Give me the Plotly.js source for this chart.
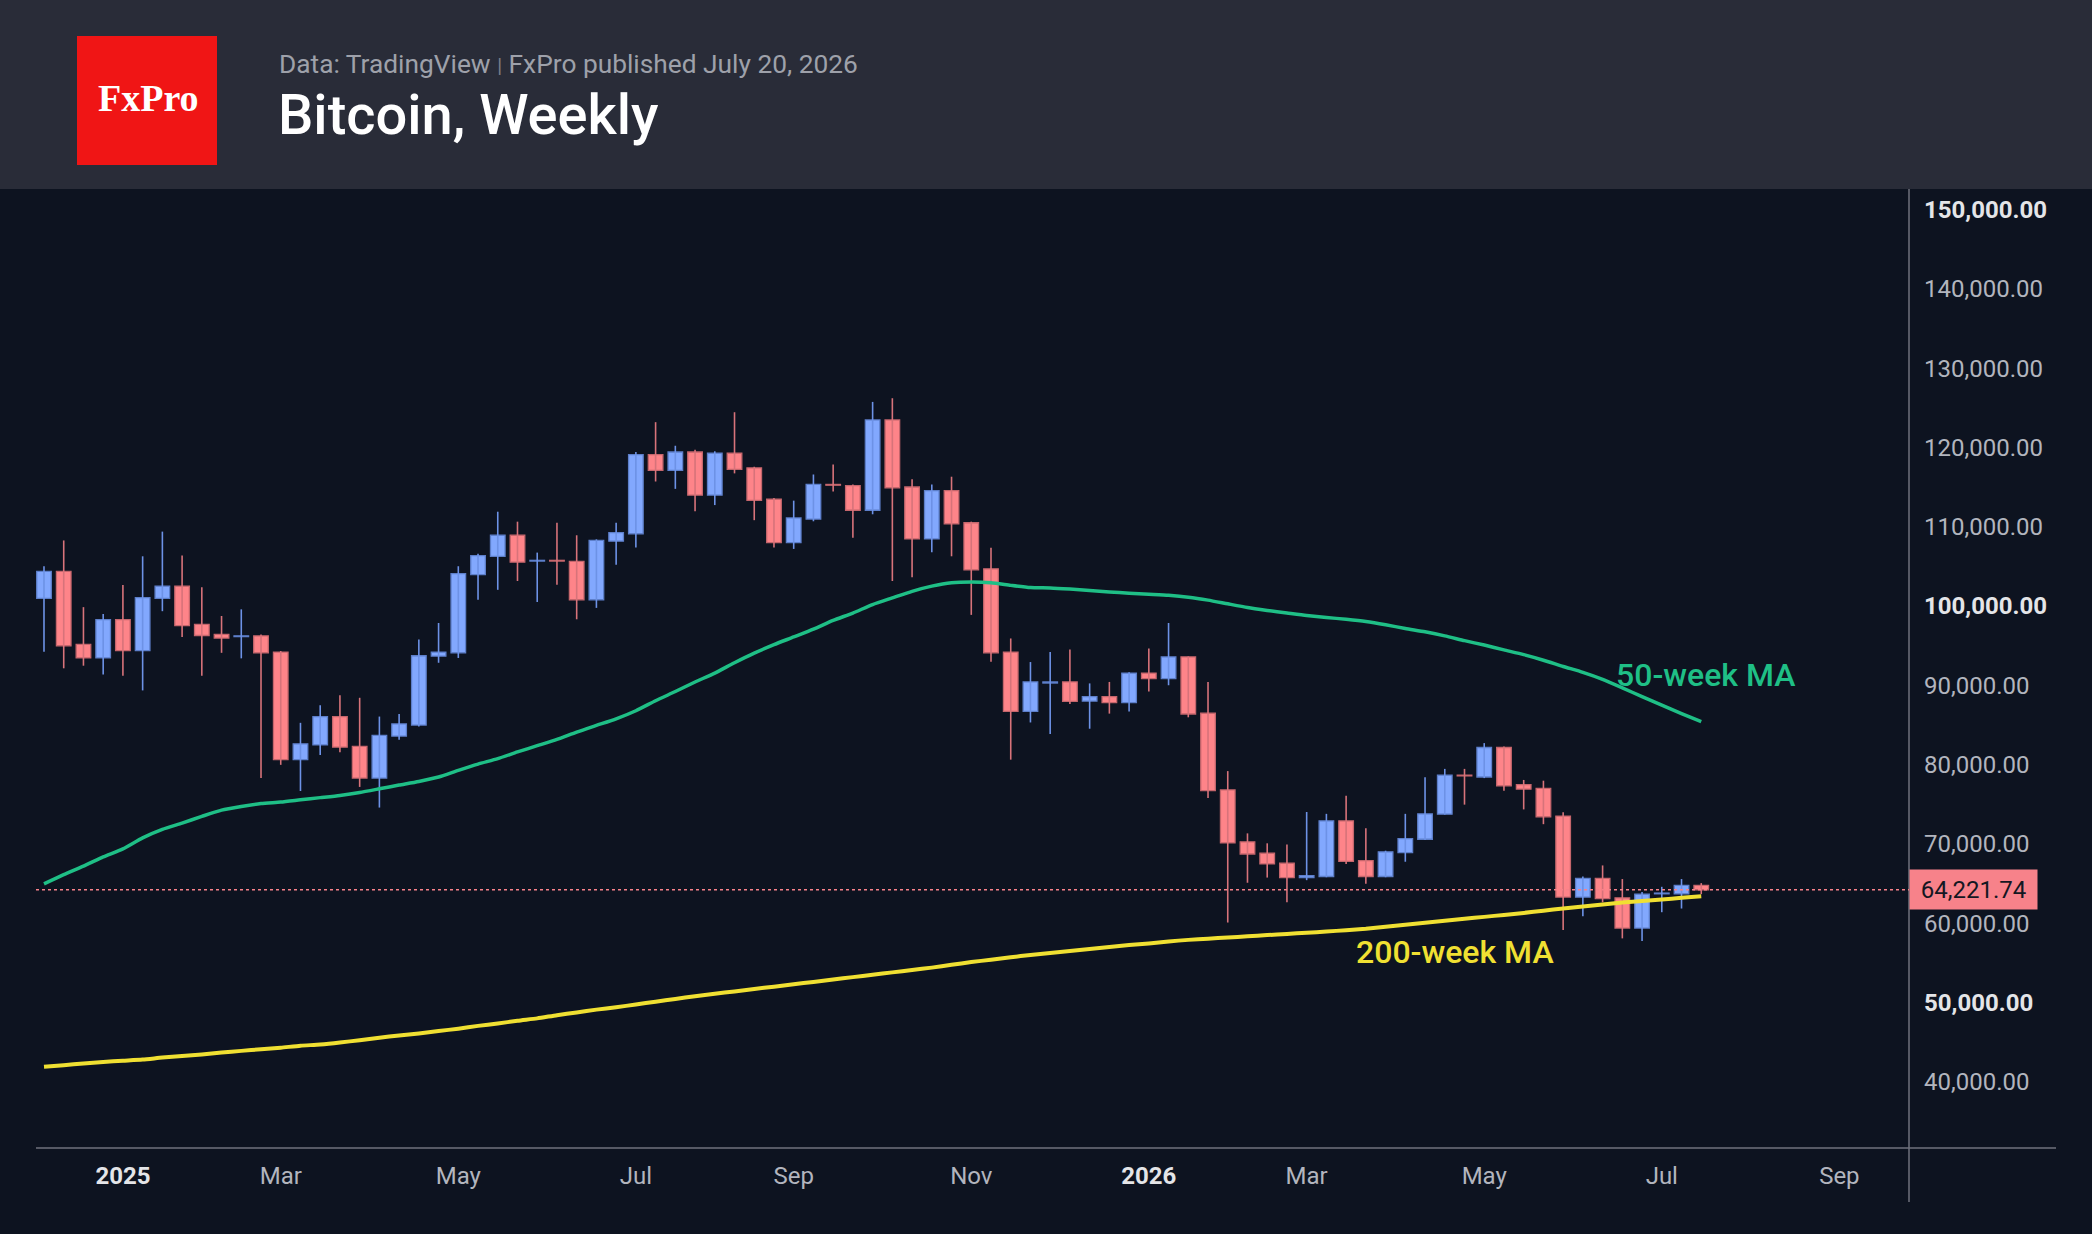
<!DOCTYPE html>
<html>
<head>
<meta charset="utf-8">
<script src="https://cdn.plot.ly/plotly-3.0.1.min.js"></script>
<style>
html,body{margin:0;padding:0;background:#0d1320;}
#chart{width:2092px;height:1234px;}
</style>
</head>
<body>
<div id="chart"></div>
<script>
// ---------- DATA (weekly candles) ----------
const weeks = [
"2024-12-09","2024-12-16","2024-12-23","2024-12-30",
"2025-01-06","2025-01-13","2025-01-20","2025-01-27",
"2025-02-03","2025-02-10","2025-02-17","2025-02-24",
"2025-03-03","2025-03-10","2025-03-17","2025-03-24","2025-03-31",
"2025-04-07","2025-04-14","2025-04-21","2025-04-28",
"2025-05-05","2025-05-12","2025-05-19","2025-05-26",
"2025-06-02","2025-06-09","2025-06-16","2025-06-23","2025-06-30",
"2025-07-07","2025-07-14","2025-07-21","2025-07-28",
"2025-08-04","2025-08-11","2025-08-18","2025-08-25",
"2025-09-01","2025-09-08","2025-09-15","2025-09-22","2025-09-29",
"2025-10-06","2025-10-13","2025-10-20","2025-10-27",
"2025-11-03","2025-11-10","2025-11-17","2025-11-24",
"2025-12-01","2025-12-08","2025-12-15","2025-12-22","2025-12-29",
"2026-01-05","2026-01-12","2026-01-19","2026-01-26",
"2026-02-02","2026-02-09","2026-02-16","2026-02-23",
"2026-03-02","2026-03-09","2026-03-16","2026-03-23","2026-03-30",
"2026-04-06","2026-04-13","2026-04-20","2026-04-27",
"2026-05-04","2026-05-11","2026-05-18","2026-05-25",
"2026-06-01","2026-06-08","2026-06-15","2026-06-22","2026-06-29",
"2026-07-06","2026-07-13","2026-07-20"
];
const openP = [
100979,104371,95171,93453,98286,94381,100979,102513,97680,96425,96146,96240,
94195,80626,82485,86063,82299,78302,83599,84994,93684,94102,103953,106277,108928,
105673,105766,105626,100794,108182,109112,119103,117105,119428,113991,119288,117430,113480,
107996,110970,115339,115199,112086,123471,115013,108461,114548,110506,104697,94195,86713,
90291,90431,88015,88572,87828,91546,90849,93591,86481,76815,70262,68822,67567,
65755,65894,72912,67893,65894,68915,70588,73748,78674,78442,82159,77468,77002,
73515,63292,65662,63199,59389,63710,63710,64779
];
const highP = [
105022,108275,99864,98983,102652,106277,109390,106370,102373,98749,99585,96425,
94334,85274,87503,88758,88432,86063,86388,95775,97866,105022,106603,111900,110645,
106742,110506,108928,108415,110506,119428,123192,120218,119707,119521,124447,117570,113619,
113294,116594,117848,115339,125748,126213,115989,115339,116314,110645,107346,95914,92940,
94195,94524,90245,90431,91639,94660,97866,93650,90431,79185,71331,70077,69938,
74027,73795,76072,71983,69148,73795,78395,79464,79464,82717,82299,78070,77977,
73980,65894,67288,65569,63943,64593,65569,65058
];
const lowP = [
94241,92150,92477,91360,91221,89362,99353,96100,91221,94102,93405,78302,
79974,76675,81230,81555,77189,74586,83134,84800,92847,93453,100794,102049,103163,
100515,102699,98331,99771,105208,107392,115710,114781,111947,112736,116733,110831,107392,
107206,110692,114456,108601,111575,103163,103628,106788,106277,98888,92987,80626,85319,
83878,87644,84529,86434,86713,89223,90013,85969,75793,60086,65104,65755,62642,
65429,65800,67474,64965,65801,67753,70500,73700,74956,78302,76722,74353,72491,
59156,60876,62642,58088,57762,61388,61852,63664
];
const closeP = [
104371,94985,93453,98286,94381,101072,102513,97541,96286,95961,96240,94102,
80626,82624,86063,82206,78302,83692,85133,93730,94195,104093,106370,108928,105534,
105766,105673,100794,108275,109251,119103,117105,119428,113991,119288,117244,113340,107996,
111110,115339,115246,112086,123471,114920,108461,114548,110367,104558,94102,86713,90431,
90431,87968,88572,87828,91546,90849,93591,86388,76722,70123,68729,67474,65755,
65987,72912,67800,65894,69008,70681,73795,78674,78581,82159,77328,76910,73424,
63292,65662,63106,59389,63664,63803,64779,64221.74
];
// 50-week moving average, read per week along the green line
const ma50 = [
64967,66130,67198,68360,69380,70770,71840,72630,73470,74260,74720,75090,
75280,75560,75840,76120,76490,76950,77420,77880,78440,79280,80070,80760,81600,
82390,83180,84110,84950,85780,86800,88060,89220,90420,91550,92850,94060,95130,
96100,97080,98190,99120,100190,101030,101860,102510,102930,103020,102930,102610,102330,
102280,102140,101960,101770,101630,101490,101350,101120,100750,100280,99820,99450,99120,
98800,98560,98330,98050,97640,97170,96750,96240,95640,95080,94470,93870,93170,
92380,91640,90760,89690,88570,87500,86430,85410
];
// 200-week moving average, read per week along the yellow line
const ma200 = [
41900,42100,42300,42500,42650,42800,43050,43250,43450,43700,43900,44100,
44300,44550,44700,44950,45250,45550,45850,46100,46400,46700,47050,47350,47700,
48000,48400,48750,49100,49400,49750,50100,50450,50800,51100,51400,51700,52000,
52300,52600,52900,53200,53500,53800,54100,54400,54750,55100,55400,55700,56000,
56250,56500,56750,57000,57250,57450,57700,57900,58050,58200,58350,58500,58650,
58800,58950,59120,59300,59550,59800,60050,60300,60550,60800,61050,61300,61580,
61850,62100,62350,62600,62800,63000,63200,63400
];
const lastPrice = 64221.74;
const priceTicks = [40000,50000,60000,70000,80000,90000,100000,110000,120000,130000,140000,150000];
const boldPriceTicks = [50000,100000,150000];
const dateTicks = ["2025-01-06","2025-03-03","2025-05-05","2025-07-07","2025-09-01","2025-11-03",
                   "2026-01-05","2026-03-02","2026-05-04","2026-07-06","2026-09-07"];
const dateTickText = ["2025","Mar","May","Jul","Sep","Nov","2026","Mar","May","Jul","Sep"];
const boldDateTicks = ["2025","2026"];

// ---------- STYLE ----------
const BG = '#0d1320', HEAD = '#292c38';
const UP = '#82a8fe', UP_LINE = '#5d7fca', UP_WICK = '#6d92e6';
const DN = '#fe8489', DN_LINE = '#c5666c', DN_WICK = '#d7737a';
const GREEN = '#1fbf86', YELLOW = '#f0e032';
const W = 2092, H = 1234;
const L = 36, R = 1909, T = 189, B = 1148;
const pw = R - L, ph = B - T;
const px = v => (v - L) / pw;
const py = v => (B - v) / ph;

// ---------- BUILD TRACES ----------
const DAY = 86400000, WEEK = 7 * DAY;
const upX=[],upY=[],upB=[],dnX=[],dnY=[],dnB=[];
const upWX=[],upWY=[],dnWX=[],dnWY=[];
weeks.forEach((d,i)=>{
  const o=openP[i], c=closeP[i], h=highP[i], l=lowP[i];
  const up = c >= o;
  const body = Math.max(Math.abs(c-o), 60);
  if (up){ upX.push(d); upY.push(body); upB.push(Math.min(o,c)); upWX.push(d,d,null); upWY.push(h,l,null); }
  else   { dnX.push(d); dnY.push(body); dnB.push(Math.min(o,c)); dnWX.push(d,d,null); dnWY.push(h,l,null); }
});
const barW = 0.74 * WEEK;

const traces = [
  {type:'scatter',mode:'lines',x:upWX,y:upWY,line:{color:UP_WICK,width:1.6},hoverinfo:'skip',connectgaps:false},
  {type:'scatter',mode:'lines',x:dnWX,y:dnWY,line:{color:DN_WICK,width:1.6},hoverinfo:'skip',connectgaps:false},
  {type:'bar',x:upX,y:upY,base:upB,width:barW,marker:{color:UP,line:{color:UP_LINE,width:1.3}}},
  {type:'bar',x:dnX,y:dnY,base:dnB,width:barW,marker:{color:DN,line:{color:DN_LINE,width:1.3}}},
  {type:'scatter',mode:'lines',x:weeks,y:ma50,line:{color:GREEN,width:3.5,shape:'spline',smoothing:0.6}},
  {type:'scatter',mode:'lines',x:weeks,y:ma200,line:{color:YELLOW,width:4,shape:'spline',smoothing:0.6}}
];

const t0 = Date.parse(weeks[0] + 'T00:00:00Z');
const iso = ms => new Date(ms).toISOString().slice(0,19).replace('T',' ');
const xRange = [iso(t0 - 0.405*WEEK), iso(t0 + 94.53*WEEK)];

const fmt = v => v.toLocaleString('en-US',{minimumFractionDigits:2,maximumFractionDigits:2});
const yTickText = priceTicks.map(v => boldPriceTicks.includes(v)
  ? "<b><span style='color:#e4e5e8'>"+fmt(v)+"</span></b>" : fmt(v));
const xTickText = dateTickText.map(t => boldDateTicks.includes(t)
  ? "<b><span style='color:#e4e5e8'>"+t+"</span></b>" : t);

const layout = {
  width:W, height:H,
  margin:{l:L, r:W-R, t:T, b:H-B, pad:0},
  paper_bgcolor:BG, plot_bgcolor:BG,
  showlegend:false, barmode:'overlay', bargap:0,
  font:{family:'Roboto, "Noto Sans", sans-serif', color:'#b2b5be'},
  xaxis:{
    type:'date', range:xRange, tickmode:'array', tickvals:dateTicks, ticktext:xTickText,
    showgrid:false, zeroline:false, showline:false, ticks:'', ticklabelstandoff:11,
    tickfont:{size:24, color:'#b2b5be'}, fixedrange:true
  },
  yaxis:{
    side:'right', range:[31650,152600], tickmode:'array', tickvals:priceTicks, ticktext:yTickText,
    showgrid:false, zeroline:false, showline:false, ticks:'', ticklabelstandoff:14,
    tickfont:{size:24, color:'#b2b5be'}, fixedrange:true
  },
  shapes:[
    {type:'rect',xref:'paper',yref:'paper',x0:px(0),x1:px(W),y0:py(T),y1:py(0),fillcolor:HEAD,line:{width:0},layer:'below'},
    {type:'rect',xref:'paper',yref:'paper',x0:px(77),x1:px(217),y0:py(165),y1:py(36),fillcolor:'#f01515',line:{width:0}},
    {type:'line',xref:'paper',yref:'paper',x0:1,x1:1,y0:py(T),y1:py(1202),line:{color:'#6f727c',width:1.5}},
    {type:'line',xref:'paper',yref:'paper',x0:0,x1:px(2056),y0:0,y1:0,line:{color:'#6f727c',width:1.5}},
    {type:'line',xref:'paper',yref:'y',x0:0,x1:1,y0:lastPrice,y1:lastPrice,line:{color:'#f7828a',width:1.5,dash:'dot'}}
  ],
  annotations:[
    {xref:'paper',yref:'paper',x:px(148),y:py(98),xanchor:'center',yanchor:'middle',showarrow:false,
     text:'<b>FxPro</b>',font:{family:'"Liberation Serif", "DejaVu Serif", serif',size:38,color:'#ffffff'}},
    {xref:'paper',yref:'paper',x:px(277),y:py(64),xanchor:'left',yanchor:'middle',showarrow:false,
     text:"Data: TradingView <span style='font-size:20px;color:#7d808a'>|</span> FxPro published July 20, 2026",
     font:{family:'Roboto',size:26.3,color:'#9ea1aa'}},
    {xref:'paper',yref:'paper',x:px(276),y:py(115),xanchor:'left',yanchor:'middle',showarrow:false,
     text:'Bitcoin, Weekly',font:{family:'Roboto',size:56,color:'#ffffff',weight:500}},
    {xref:'paper',yref:'paper',x:px(1705),y:py(675),xanchor:'center',yanchor:'middle',showarrow:false,
     text:'50-week MA',font:{family:'Roboto',size:32,color:GREEN,weight:500}},
    {xref:'paper',yref:'paper',x:px(1455),y:py(952),xanchor:'center',yanchor:'middle',showarrow:false,
     text:'200-week MA',font:{family:'Roboto',size:32,color:YELLOW,weight:500}},
    {xref:'paper',yref:'y',x:1,y:lastPrice,xanchor:'left',yanchor:'middle',showarrow:false,
     text:fmt(lastPrice),bgcolor:'#f7828a',width:121,height:33,borderpad:3,
     font:{family:'Roboto',size:24,color:'#141722'}}
  ]
};

Plotly.newPlot('chart', traces, layout, {displayModeBar:false, staticPlot:true});
</script>
</body>
</html>
